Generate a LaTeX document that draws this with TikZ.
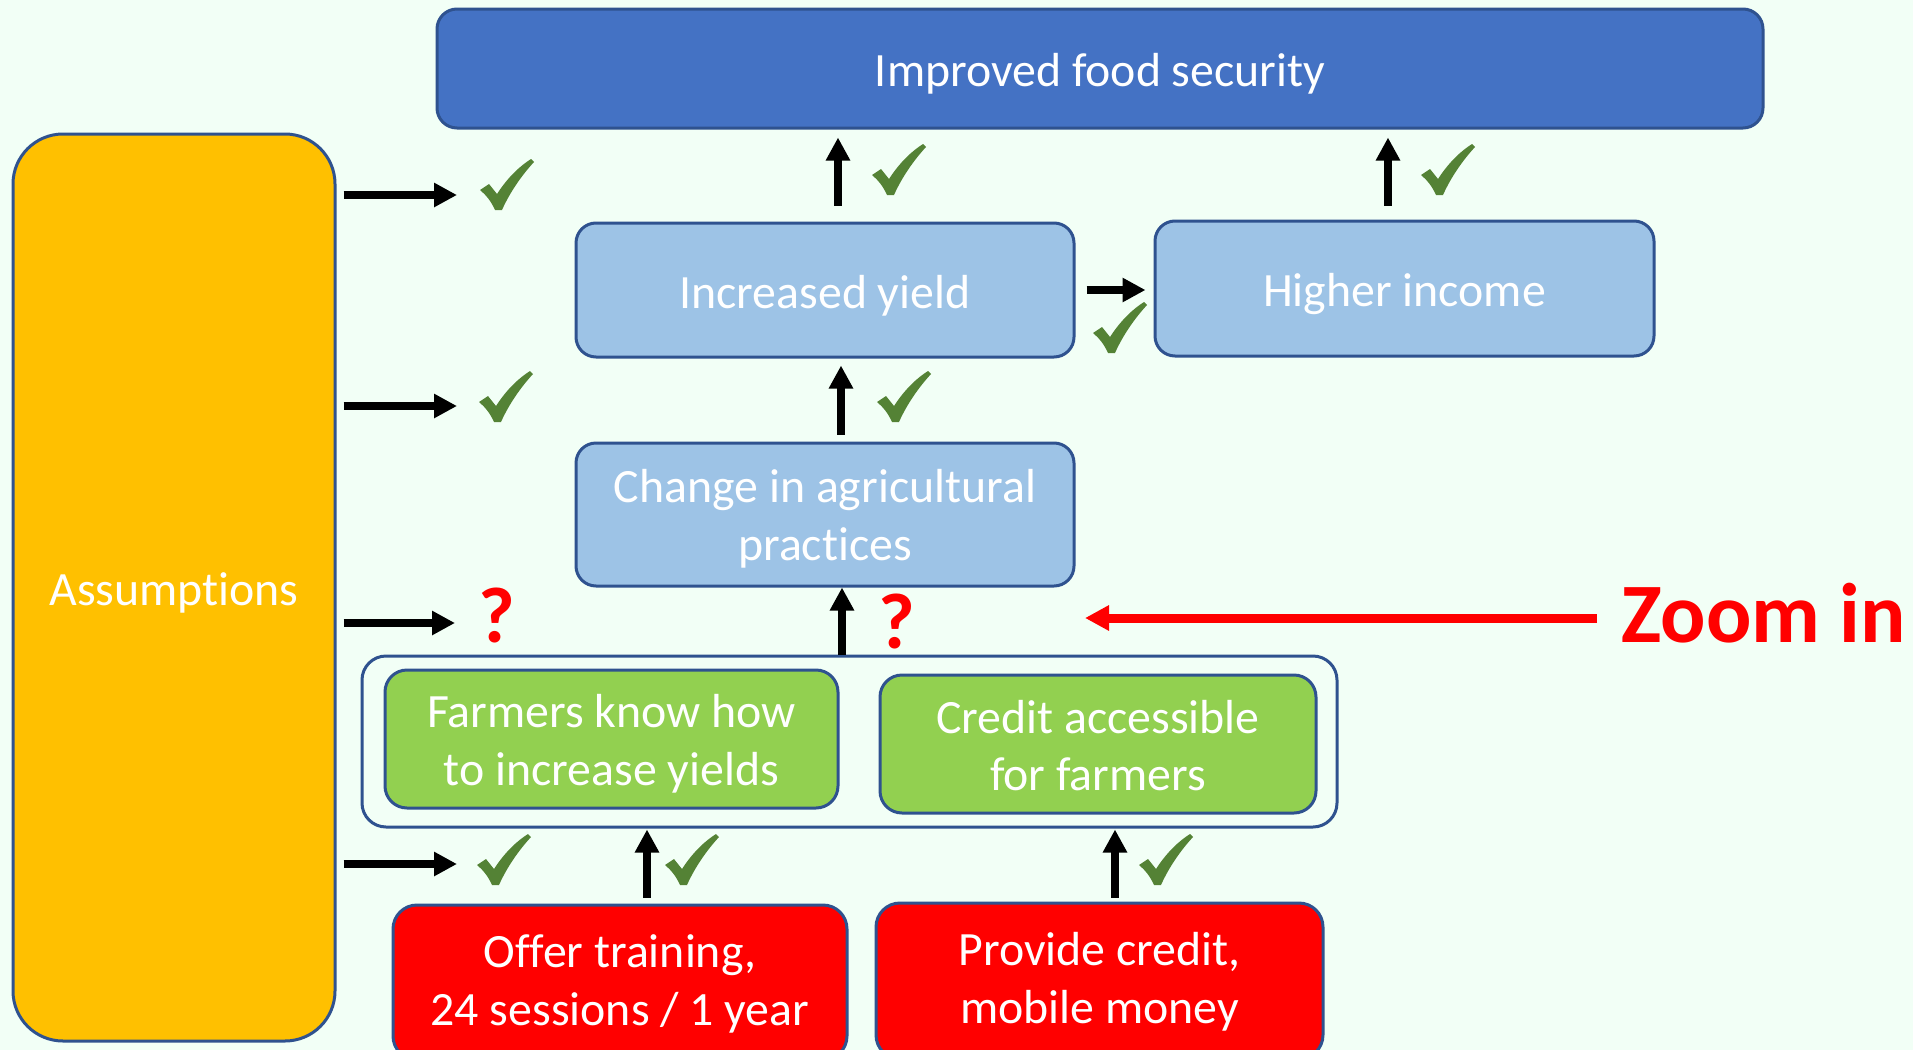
\documentclass[tikz,border=0pt]{standalone}
\usepackage{fontspec}
\setmainfont{Carlito}[Ligatures={NoCommon}]
\usetikzlibrary{arrows.meta,calc}
\definecolor{bg}{HTML}{F2FFF6}
\definecolor{bord}{HTML}{2F528F}
\definecolor{topblue}{HTML}{4472C4}
\definecolor{lblue}{HTML}{9DC3E6}
\definecolor{gold}{HTML}{FFC000}
\definecolor{lgreen}{HTML}{92D050}
\definecolor{chkg}{HTML}{548235}
\definecolor{pure red}{HTML}{FF0000}
\begin{document}
\begin{tikzpicture}[x=0.5pt,y=-0.5pt,
  box/.style={draw=bord, line width=1.5pt, rounded corners=10pt, inner sep=0pt},
  txt/.style={text=white, align=center, inner sep=0pt, font=\fontsize{23.9}{28.9}\selectfont},
  arr/.style={line width=4pt, -{Triangle[length=11.5pt,width=11.5pt]}},
  rarr/.style={draw=pure red, line width=4.5pt, -{Triangle[length=12pt,width=12pt]}},
  qmark/.style={anchor=base, inner sep=0pt, text=pure red, font=\bfseries\fontsize{39.5}{40}\selectfont},
  chk/.pic={\fill[chkg] (0,31) -- (9,25) -- (17,35) .. controls (28,18) and (40,7) .. (51,0) -- (54,3) .. controls (42,16) and (30,33) .. (22,51) -- (15,51) .. controls (11,42) and (6,36) .. (0,31) -- cycle;}
]
\useasboundingbox (0,0) rectangle (1913,1050);
\fill[bg] (0,0) rectangle (1913,1050);
\clip (0,0) rectangle (1913,1050);

% boxes
\node[box, fill=topblue, minimum width=663pt, minimum height=59.5pt] (top) at (1100,68.5) {};
\node[box, fill=gold, rounded corners=25pt, minimum width=161pt, minimum height=453.5pt] (assump) at (174,587.5) {};
\node[box, fill=lblue, minimum width=249pt, minimum height=67pt] (yield) at (825,290) {};
\node[box, fill=lblue, minimum width=249.5pt, minimum height=67.5pt] (income) at (1404.5,288.5) {};
\node[box, fill=lblue, minimum width=249pt, minimum height=71.5pt] (change) at (825,514.5) {};
\node[box, fill=bg, rounded corners=12pt, minimum width=487.5pt, minimum height=85.5pt] (outer) at (849.5,741.5) {};
\node[box, fill=lgreen, rounded corners=11pt, minimum width=226.5pt, minimum height=69pt] (farmers) at (611.5,739) {};
\node[box, fill=lgreen, rounded corners=11pt, minimum width=218pt, minimum height=69pt] (credit) at (1098,744) {};
\node[box, fill=pure red, rounded corners=12pt, minimum width=227pt, minimum height=77.5pt] (offer) at (620,982.5) {};
\node[box, fill=pure red, rounded corners=12pt, minimum width=223.5pt, minimum height=78pt] (provide) at (1099.5,981) {};

% box texts
\node[txt] (topT) at ($(top.center)+(0,5)$) {Improved food security};
\node[txt] (assumpT) at ($(assump.center)+(0,5)$) {Assumptions};
\node[txt] (yieldT) at ($(yield.center)+(0,6)$) {Increased yield};
\node[txt] (incomeT) at ($(income.center)+(0,6)$) {Higher income};
\node[txt] (changeT) at ($(change.center)+(0,4)$) {Change in agricultural\\practices};
\node[txt] (farmersT) at ($(farmers.center)+(0,5)$) {Farmers know how\\to increase yields};
\node[txt] (creditT) at ($(credit.center)+(0,1.5)$) {Credit accessible\\for farmers};
\node[txt] (offerT) at ($(offer.center)+(0,1.5)$) {Offer training,\\24 sessions / 1 year};
\node[txt] (provideT) at ($(provide.center)+(0,1)$) {Provide credit,\\mobile money};

\node[anchor=base west, inner sep=0pt, text=pure red, font=\bfseries\fontsize{42.3}{44}\selectfont] (zoomtxt) at (1621,642) {Zoom in};
\node[qmark] (q1) at (497,642) {?};
\node[qmark] (q2) at (897,648) {?};

% arrows from assumptions
\coordinate (t1) at (457,195);
\coordinate (t2) at (457,406);
\coordinate (t3) at (455,623);
\coordinate (t4) at (457,864);
\foreach \t in {t1,t2,t3,t4}
  \draw[arr, shorten <=3.5pt] (assump.east |- \t) -- (\t);

% vertical arrows
\coordinate (u1) at ($(yield.north)+(13,0)$);
\draw[arr, shorten <=8pt, shorten >=4pt] (u1) -- (u1 |- top.south);
\coordinate (u2) at ($(income.north)+(-16.5,0)$);
\draw[arr, shorten <=7pt, shorten >=4pt] (u2) -- (u2 |- top.south);
\coordinate (u3) at ($(change.north)+(16,0)$);
\draw[arr, shorten <=3.5pt, shorten >=3.5pt] (u3) -- (u3 |- yield.south);
\coordinate (u4) at ($(change.south)+(17,0)$);
\draw[arr] (u4 |- outer.north) -- (u4);
\coordinate (u5) at ($(offer.north)+(27,0)$);
\draw[arr, shorten <=3pt, shorten >=0.5pt] (u5) -- (u5 |- outer.south);
\coordinate (u6) at ($(provide.north)+(15.5,0)$);
\draw[arr, shorten <=2pt, shorten >=0.5pt] (u6) -- (u6 |- outer.south);

% horizontal yield -> income
\draw[arr, shorten <=5.5pt, shorten >=4pt] (yield.east) -- (yield.east -| income.west);

% red arrow
\coordinate (rtip) at (1085,618);
\draw[rarr, shorten <=12pt] (zoomtxt.west |- rtip) -- (rtip);

% checks
\foreach \p in {(480,159),(872,144),(1421,144),(1093,302),(479,371),(877,371),(477,834),(665,834),(1139,834)}
  \pic at \p {chk};
\end{tikzpicture}
\end{document}
